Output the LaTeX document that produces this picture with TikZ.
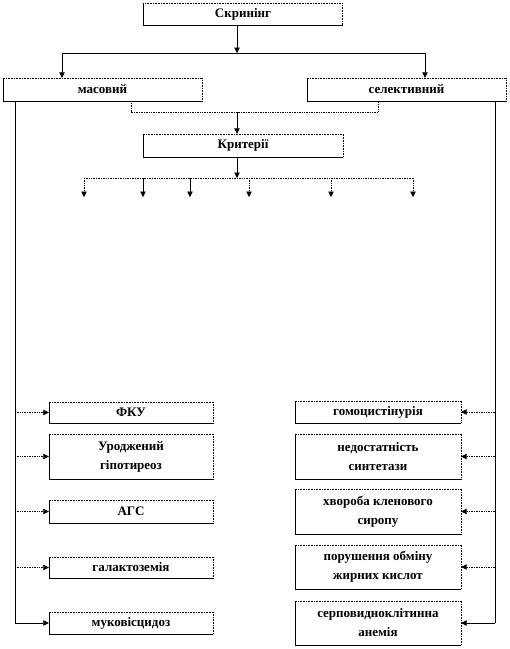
\documentclass[tikz,border=0pt]{standalone}
\usepackage{fontspec}
\setmainfont{Liberation Serif}
\usetikzlibrary{arrows.meta}
\begin{document}
\begin{tikzpicture}[x=1pt,y=-1pt,
  bx/.style={inner sep=0pt,align=center,font=\fontsize{13}{19}\selectfont\bfseries},
  arr/.style={-{Triangle[length=5.5pt,width=5.5pt]},line width=0.6pt},
  ln/.style={line width=0.6pt},
  dl/.style={line width=0.7pt,densely dotted}]
\useasboundingbox (0,0) rectangle (510,649);
% top boxes
\node[bx,minimum width=199pt,minimum height=22pt] (skr) at (243,14) {Скринінг};
\node[bx,minimum width=199pt,minimum height=23pt] (mas) at (102.5,89.5) {масовий};
\node[bx,minimum width=199pt,minimum height=23pt] (sel) at (406.5,89.5) {селективний};
\node[bx,minimum width=200pt,minimum height=23pt] (krit) at (243,145.5) {Критерії};
% left boxes
\node[bx,minimum width=164pt,minimum height=21pt] (fku) at (131,412.5) {ФКУ};
\node[bx,minimum width=164pt,minimum height=45pt] (urod) at (131,456.5) {Уроджений\\гіпотиреоз};
\node[bx,minimum width=164pt,minimum height=23pt] (ags) at (131,511.5) {АГС};
\node[bx,minimum width=164pt,minimum height=21pt] (gal) at (131,567.5) {галактоземія};
\node[bx,minimum width=164pt,minimum height=22pt] (muk) at (131,623) {муковісцидоз};
% right boxes
\node[bx,minimum width=166pt,minimum height=22pt] (gom) at (378,412) {гомоцистінурія};
\node[bx,minimum width=166pt,minimum height=45pt] (ned) at (378,456.5) {недостатність\\синтетази};
\node[bx,minimum width=166pt,minimum height=45pt] (hvor) at (378,511.5) {хвороба кленового\\сиропу};
\node[bx,minimum width=166pt,minimum height=44pt] (por) at (378,567) {порушення обміну\\жирних кислот};
\node[bx,minimum width=166pt,minimum height=44pt] (serp) at (378,623) {серповидноклітинна\\анемія};
% box borders
\foreach \n in {skr,mas,sel,krit,fku,urod,ags,gal,muk,gom,ned,hvor,por,serp}{
  \draw[line width=0.6pt,densely dotted] (\n.north west) -- (\n.north east) -- (\n.south east);
  \draw[line width=0.6pt] (\n.north west) -- (\n.south west) -- (\n.south east);
}
% coordinates
\coordinate (j1) at (237,53);
\coordinate (jl) at (62,53);
\coordinate (jr) at (425,53);
\coordinate (j2) at (237,112);
\coordinate (dl1) at (131,112);
\coordinate (dr1) at (378,112);
\coordinate (j3) at (237,178);
\coordinate (kl) at (84,178);
\coordinate (kr) at (413,178);
\coordinate (LL) at (15,0);
\coordinate (RR) at (495,0);
% top connectors
\draw[arr] (skr.south -| j1) -- (j1);
\draw[ln] (jl) -- (jr);
\draw[arr] (jl) -- (mas.north -| jl);
\draw[arr] (jr) -- (sel.north -| jr);
\draw[dl] (mas.south -| dl1) -- (dl1) -- (dr1) -- (sel.south -| dr1);
\draw[arr] (j2) -- (krit.north -| j2);
\draw[arr] (krit.south -| j3) -- (j3);
\draw[dl] (kl) -- (kr);
\foreach \x/\s in {84/dl,143/ln,190/ln,249/dl,331/dl,413/dl}{
  \coordinate (c\x) at (\x,197);
  \draw[arr,\s] (\x,178) -- (c\x);
}
% side trunks
\draw[ln] (mas.south -| LL) -- (muk.west -| LL);
\draw[ln] (sel.south -| RR) -- (serp.east -| RR);
\foreach \n/\s in {fku/dl,urod/dl,ags/dl,gal/dl,muk/ln}{
  \draw[arr,\s] (\n.west -| LL) -- (\n.west);
}
\foreach \n/\s in {gom/dl,ned/dl,hvor/dl,por/dl,serp/ln}{
  \draw[arr,\s] (\n.east -| RR) -- (\n.east);
}
\end{tikzpicture}
\end{document}
